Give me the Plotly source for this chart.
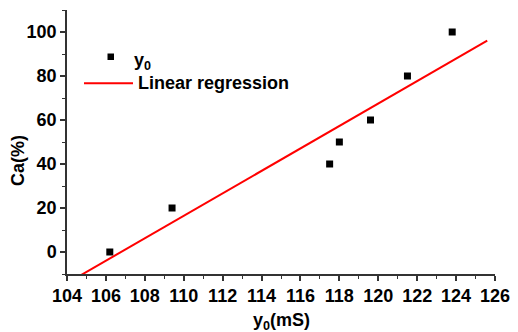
import numpy as np
import plotly.graph_objects as go

# Data
y0_mS = [106.2, 109.4, 117.5, 118.0, 119.6, 121.5, 123.8]
ca_pct = [0, 20, 40, 50, 60, 80, 100]
reg_x = [104.0, 125.6]  # extent of the drawn regression line

x_ticks = [104, 106, 108, 110, 112, 114, 116, 118, 120, 122, 124, 126]
y_ticks = [0, 20, 40, 60, 80, 100]

slope, intercept = np.polyfit(y0_mS, ca_pct, 1)
reg_y = [slope * x + intercept for x in reg_x]

FONT = "Liberation Sans, Arial, sans-serif"

fig = go.Figure()
fig.add_trace(go.Scatter(
    x=y0_mS, y=ca_pct, mode="markers",
    marker=dict(symbol="square", size=7, color="black"),
    showlegend=False, hoverinfo="skip",
))
fig.add_trace(go.Scatter(
    x=reg_x, y=reg_y, mode="lines",
    line=dict(color="#ff0000", width=2),
    showlegend=False, hoverinfo="skip",
))

W, H = 518, 332
L, R, T, B = 67, 23, 10, 58
pw, ph = W - L - R, H - T - B


def px(xp):
    return (xp - L) / pw


def py(yp):
    return (H - B - yp) / ph


axis_common = dict(
    showgrid=False, zeroline=False, showline=True, automargin=False,
    linecolor="#333333", linewidth=1.5,
    ticks="outside", ticklen=5, tickwidth=1.5, tickcolor="#333333",
    tickfont=dict(family=FONT, size=18, color="black", weight="bold"),
)

fig.update_layout(
    width=W, height=H,
    margin=dict(l=L, r=R, t=T, b=B),
    paper_bgcolor="white", plot_bgcolor="white",
    xaxis=dict(range=[104, 126], tickvals=x_ticks,
               minor=dict(dtick=1, ticks="outside", ticklen=3, tickcolor="#333333", tickwidth=1.2),
               **axis_common),
    yaxis=dict(range=[-10, 110], tickvals=y_ticks,
               minor=dict(dtick=10, ticks="outside", ticklen=3, tickcolor="#333333", tickwidth=1.2),
               **axis_common),
    showlegend=False,
)

ann_font = dict(family=FONT, size=18, color="black", weight="bold")

# Axis titles
fig.add_annotation(text="y<sub>0</sub>(mS)", xref="paper", yref="paper",
                   x=px(281), y=py(321), xanchor="center", yanchor="middle",
                   showarrow=False, font=ann_font)
fig.add_annotation(text="Ca(%)", xref="paper", yref="paper", textangle=-90,
                   x=px(18), y=py(161), xanchor="center", yanchor="middle",
                   showarrow=False, font=ann_font)

# Legend (manual)
fig.add_shape(type="rect", xref="paper", yref="paper",
              x0=px(107.5), x1=px(114), y0=py(60), y1=py(53.5),
              fillcolor="black", line=dict(width=0))
fig.add_annotation(text="y<sub>0</sub>", xref="paper", yref="paper",
                   x=px(132), y=py(61), xanchor="left", yanchor="middle",
                   showarrow=False, font=ann_font)
fig.add_shape(type="line", xref="paper", yref="paper",
              x0=px(84), x1=px(133), y0=py(83.3), y1=py(83.3),
              line=dict(color="#ff0000", width=2))
fig.add_annotation(text="Linear regression", xref="paper", yref="paper",
                   x=px(136), y=py(83), xanchor="left", yanchor="middle",
                   showarrow=False, font=ann_font)

fig.write_html(
    "out.html",
    config={"displayModeBar": False},
    post_script="document.body.style.margin='0';document.body.style.overflow='hidden';",
)
